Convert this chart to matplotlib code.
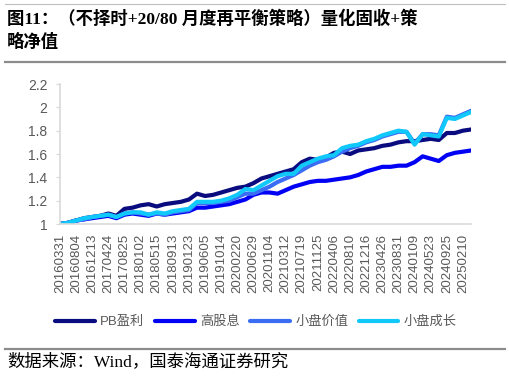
import matplotlib

matplotlib.use("Agg")

import matplotlib.pyplot as plt
import numpy as np

# 量化固收+策略净值（不择时，20/80 月度再平衡），约每 42 个交易日取一点
TICK_LABELS = [
    "20160331", "20160804", "20161213", "20170424", "20170825", "20180102",
    "20180515", "20180913", "20190123", "20190605", "20191014", "20200220",
    "20200629", "20201104", "20210312", "20210719", "20211125", "20220406",
    "20220810", "20221216", "20230426", "20230831", "20240109", "20240523",
    "20240925", "20250210",
]

pb_yingli = [
    1.00, 1.01, 1.03, 1.05, 1.06, 1.07, 1.09, 1.07, 1.13, 1.14,
    1.16, 1.17, 1.15, 1.17, 1.18, 1.19, 1.21, 1.26, 1.24, 1.25,
    1.27, 1.29, 1.31, 1.32, 1.35, 1.39, 1.41, 1.43, 1.45, 1.47,
    1.53, 1.56, 1.55, 1.57, 1.61, 1.62, 1.60, 1.63, 1.64, 1.65,
    1.67, 1.68, 1.70, 1.71, 1.71, 1.72, 1.73, 1.72, 1.78, 1.78,
    1.80, 1.81,
]
gao_guxi = [
    1.00, 1.01, 1.03, 1.04, 1.05, 1.06, 1.07, 1.05, 1.08, 1.09,
    1.08, 1.07, 1.09, 1.08, 1.09, 1.10, 1.11, 1.14, 1.14, 1.15,
    1.16, 1.17, 1.19, 1.21, 1.25, 1.27, 1.27, 1.26, 1.29, 1.32,
    1.34, 1.36, 1.37, 1.37, 1.38, 1.39, 1.40, 1.42, 1.45, 1.47,
    1.49, 1.49, 1.50, 1.50, 1.53, 1.58, 1.56, 1.54, 1.59, 1.61,
    1.62, 1.63,
]
xiaopan_jiazhi = [
    1.00, 1.01, 1.03, 1.04, 1.06, 1.07, 1.08, 1.06, 1.09, 1.10,
    1.09, 1.08, 1.09, 1.08, 1.10, 1.11, 1.12, 1.18, 1.18, 1.18,
    1.19, 1.20, 1.23, 1.26, 1.26, 1.29, 1.32, 1.36, 1.39, 1.42,
    1.46, 1.50, 1.53, 1.55, 1.58, 1.62, 1.65, 1.67, 1.70, 1.72,
    1.75, 1.77, 1.79, 1.79, 1.69, 1.77, 1.77, 1.76, 1.92, 1.91,
    1.94, 1.97,
]
xiaopan_chengzhang = [
    1.00, 1.01, 1.03, 1.05, 1.06, 1.07, 1.08, 1.06, 1.09, 1.10,
    1.10, 1.08, 1.10, 1.09, 1.11, 1.12, 1.13, 1.19, 1.19, 1.19,
    1.20, 1.22, 1.25, 1.30, 1.29, 1.33, 1.37, 1.41, 1.43, 1.43,
    1.50, 1.53, 1.56, 1.58, 1.59, 1.65, 1.67, 1.68, 1.71, 1.73,
    1.76, 1.78, 1.80, 1.79, 1.68, 1.77, 1.76, 1.75, 1.91, 1.90,
    1.93, 1.96,
]

SERIES = [
    ("PB盈利", pb_yingli, "#0B0B80"),
    ("高股息", gao_guxi, "#0000F5"),
    ("小盘价值", xiaopan_jiazhi, "#3A6CF4"),
    ("小盘成长", xiaopan_chengzhang, "#10C8FA"),
]

CJK = ["Liberation Sans", "Noto Sans CJK SC", "DejaVu Sans"]
SERIF_CJK = ["Liberation Serif", "Noto Sans CJK SC", "DejaVu Sans"]
GRAY = "#595959"

plt.rcParams["font.family"] = CJK

fig = plt.figure(figsize=(5.1, 3.76), dpi=100)
ax = fig.add_axes([60 / 510, 152 / 376, 411 / 510, 140 / 376])

x = np.arange(len(pb_yingli))
for name, vals, color in SERIES:
    ax.plot(x, vals, color=color, lw=3.0, label=name, solid_capstyle="round",
            solid_joinstyle="round")

ax.set_xlim(0, len(x) - 1)
ax.set_ylim(1, 2.2)
yt = np.round(np.arange(1, 2.21, 0.2), 1)
ax.set_yticks(yt)
ax.set_yticklabels([f"{v:g}" for v in yt])
ax.set_xticks(x[::2])
ax.set_xticklabels(TICK_LABELS, rotation=90)

for s in ("top", "right"):
    ax.spines[s].set_visible(False)
for s in ("left", "bottom"):
    ax.spines[s].set_color("#D9D9D9")
    ax.spines[s].set_linewidth(1.2)
ax.tick_params(axis="y", length=3, color="#D9D9D9", labelcolor=GRAY,
               labelsize=10, pad=6)
ax.tick_params(axis="x", length=0, labelcolor=GRAY, labelsize=9.5, pad=7)

fig.legend(loc="center", bbox_to_anchor=(256 / 510, 1 - 322 / 376), ncol=4,
           frameon=False, fontsize=9.5, labelcolor=GRAY, handlelength=3.0,
           columnspacing=0.8, handletextpad=0.4)

# 标题、分隔线与资料来源
fig.text(7 / 510, 1 - 31 / 376,
         "图11：（不择时+20/80 月度再平衡策略）量化固收+策\n略净值",
         family=SERIF_CJK, fontweight="bold", fontsize=12.5,
         va="center", ha="left", linespacing=1.45)
fig.add_artist(plt.Line2D([5 / 510, 505 / 510], [1 - 4 / 376] * 2,
                          color="#BFBFBF", lw=0.8))
fig.add_artist(plt.Line2D([5 / 510, 505 / 510], [1 - 62 / 376] * 2,
                          color="#8C8C8C", lw=1.6))
fig.add_artist(plt.Line2D([5 / 510, 505 / 510], [1 - 349 / 376] * 2,
                          color="#8C8C8C", lw=1.6))
fig.text(7 / 510, 1 - 362 / 376, "数据来源：Wind，国泰海通证券研究",
         family=SERIF_CJK, fontsize=12.5, va="center", ha="left")

fig.savefig("out.png", dpi=100)
